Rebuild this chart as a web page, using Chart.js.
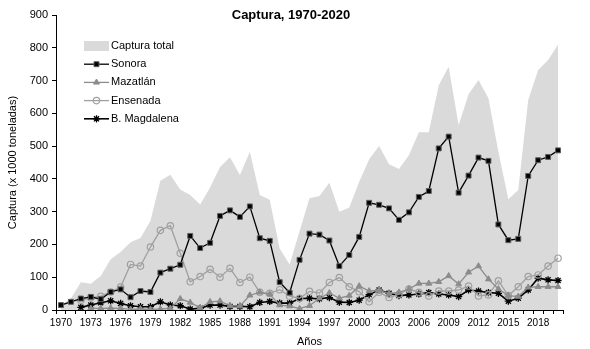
<!DOCTYPE html>
<html>
<head>
<meta charset="utf-8">
<style>
  html, body { margin: 0; padding: 0; background: #fff; }
  #wrap { width: 590px; height: 349px; }
</style>
</head>
<body>
<div id="wrap"><canvas id="chart" width="590" height="349"></canvas></div>
<script src="https://cdn.jsdelivr.net/npm/chart.js@4.4.1/dist/chart.umd.min.js"></script>
<script>
// años 1970-2020
const years = [];
for (let y = 1970; y <= 2020; y++) years.push(String(y));

const total = [15, 35, 85, 80, 104, 155, 177, 207, 220, 272,
  394, 413, 368, 351, 322, 374, 436, 466, 412, 483,
  351, 336, 188, 139, 240, 341, 348, 388, 300, 313,
  391, 460, 500, 445, 430, 472, 542, 542, 686, 742,
  564, 658, 702, 646, 483, 338, 366, 641, 732, 763, 809];

const sonora = [15, 25, 35, 40, 33, 55, 63, 39, 58, 55,
  114, 126, 138, 226, 189, 205, 287, 304, 284, 316,
  219, 211, 85, 53, 153, 233, 230, 212, 134, 168,
  223, 327, 321, 310, 275, 298, 345, 363, 493, 529,
  358, 410, 465, 455, 261, 213, 217, 409, 457, 467, 487];

const mazatlan = [null, null, null, 5, 5, 6, 5, 2, 3, 2,
  3, 5, 34, 23, 7, 25, 27, 13, 12, 45,
  54, 48, 15, 12, 4, 13, 36, 52, 36, 44,
  73, 58, 60, 50, 54, 64, 81, 81, 86, 104,
  79, 115, 134, 94, 64, 44, 41, 69, 71, 71, 71];

const ensenada = [null, null, 30, 37, 42, 55, 70, 139, 134, 192,
  243, 257, 173, 86, 102, 124, 100, 127, 84, 100,
  54, 51, 62, 42, 36, 57, 52, 84, 99, 71,
  56, 25, 54, 38, 48, 64, 54, 43, 58, 58,
  61, 73, 43, 46, 89, 44, 71, 102, 107, 134, 158];

const magdalena = [null, null, 8, 15, 22, 28, 20, 13, 10, 10,
  25, 15, 13, 3, 5, 15, 15, 11, 11, 10,
  23, 26, 21, 21, 35, 36, 34, 38, 24, 23,
  30, 47, 61, 51, 44, 46, 49, 53, 49, 46,
  41, 61, 58, 53, 51, 27, 36, 61, 97, 92, 90];

const FONT = "'Liberation Sans', Arial, sans-serif";

// titulo y leyenda dentro del area del grafico
const extras = {
  id: 'extras',
  afterDraw(chart) {
    const ctx = chart.ctx;
    ctx.save();
    ctx.fillStyle = '#000';
    ctx.font = 'bold 13px ' + FONT;
    ctx.textAlign = 'center';
    ctx.textBaseline = 'middle';
    ctx.fillText('Captura, 1970-2020', 291, 15);

    ctx.font = '11px ' + FONT;
    ctx.textAlign = 'left';
    const x0 = 84, x1 = 109;
    chart.data.datasets.forEach((ds, i) => {
      const y = 46 + i * 18.2;
      if (ds.fill) {
        ctx.fillStyle = ds.backgroundColor;
        ctx.fillRect(x0, y - 5, x1 - x0, 10);
      } else {
        ctx.strokeStyle = ds.borderColor;
        ctx.lineWidth = ds.borderWidth;
        ctx.beginPath();
        ctx.moveTo(x0, y);
        ctx.lineTo(x1, y);
        ctx.stroke();
        ctx.fillStyle = ds.pointBackgroundColor;
        ctx.strokeStyle = ds.pointBorderColor;
        ctx.lineWidth = ds.pointBorderWidth;
        Chart.helpers.drawPoint(ctx, {
          pointStyle: ds.pointStyle,
          radius: ds.pointRadius,
          borderWidth: ds.pointBorderWidth,
          rotation: 0
        }, (x0 + x1) / 2, y);
      }
      ctx.fillStyle = '#000';
      ctx.fillText(ds.label, x1 + 2, y);
    });
    ctx.restore();
  }
};

new Chart(document.getElementById('chart'), {
  type: 'line',
  data: {
    labels: years,
    datasets: [
      {
        label: 'Captura total', data: total, fill: 'origin', order: 10,
        backgroundColor: '#dadada', borderWidth: 0, borderColor: 'rgba(0,0,0,0)',
        pointRadius: 0, tension: 0
      },
      {
        label: 'Sonora', data: sonora, borderColor: '#000', borderWidth: 1.3,
        pointStyle: 'rect', pointRadius: 3.5, pointBackgroundColor: '#000',
        pointBorderColor: '#606060', pointBorderWidth: 1
      },
      {
        label: 'Mazatlán', data: mazatlan, borderColor: '#8c8c8c', borderWidth: 1.3,
        pointStyle: 'triangle', pointRadius: 3.4, pointBackgroundColor: '#8c8c8c',
        pointBorderColor: '#8c8c8c', pointBorderWidth: 1
      },
      {
        label: 'Ensenada', data: ensenada, borderColor: '#a0a0a0', borderWidth: 1.3,
        pointStyle: 'circle', pointRadius: 3.2, pointBackgroundColor: 'rgba(0,0,0,0)',
        pointBorderColor: '#a0a0a0', pointBorderWidth: 1.2
      },
      {
        label: 'B. Magdalena', data: magdalena, borderColor: '#000', borderWidth: 1.6,
        pointStyle: 'star', pointRadius: 3.6, pointBackgroundColor: '#000',
        pointBorderColor: '#000', pointBorderWidth: 1.3
      }
    ]
  },
  options: {
    responsive: false,
    animation: false,
    devicePixelRatio: 1,
    spanGaps: false,
    layout: { padding: { left: 0, right: 27, top: 15, bottom: 0 } },
    plugins: { legend: { display: false }, title: { display: false }, tooltip: { enabled: false } },
    scales: {
      x: {
        type: 'category',
        offset: true,
        grid: { offset: true, drawOnChartArea: false, drawTicks: true, tickLength: 4, color: '#000' },
        border: { color: '#000', width: 1 },
        ticks: {
          autoSkip: false, maxRotation: 0, minRotation: 0, padding: 3,
          color: '#000', font: { family: FONT, size: 10 },
          callback: (v, i) => (i % 3 === 0 ? years[i] : '')
        },
        title: { display: true, text: 'Años', color: '#000', font: { family: FONT, size: 11 }, padding: { top: 3, bottom: 0 } },
        afterFit: (s) => { s.height = 39; }
      },
      y: {
        min: 0, max: 900,
        grid: { drawOnChartArea: false, drawTicks: true, tickLength: 4, color: '#000' },
        border: { color: '#000', width: 1 },
        ticks: { stepSize: 100, padding: 4, color: '#000', font: { family: FONT, size: 11 } },
        title: { display: true, text: 'Captura (x 1000 toneladas)', color: '#000', font: { family: FONT, size: 11 }, padding: { top: 6, bottom: 2 } },
        afterFit: (s) => { s.width = 56; }
      }
    }
  },
  plugins: [extras]
});
</script>
</body>
</html>
